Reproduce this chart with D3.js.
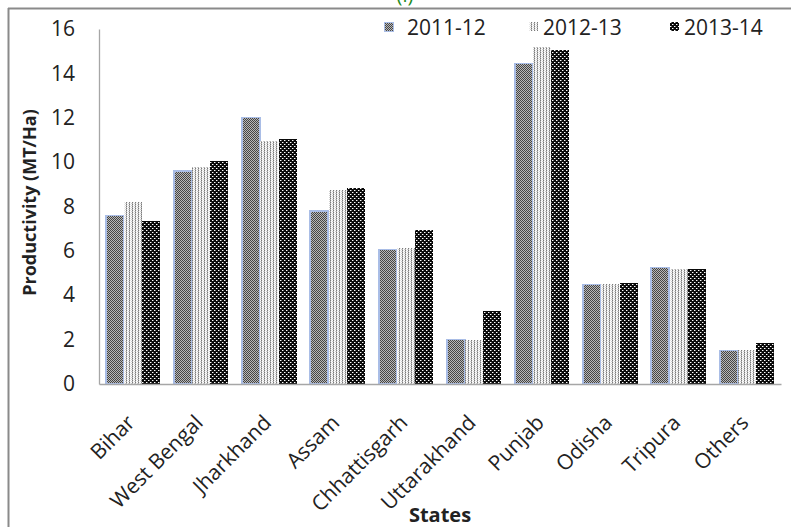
<!DOCTYPE html>
<html><head><meta charset="utf-8">
<script src="https://cdn.jsdelivr.net/npm/d3@7"></script>
<style>html,body{margin:0;padding:0;background:#fff;overflow:hidden}</style>
</head><body>
<svg id="c" width="791" height="527"></svg>
<script>
const categories = ["Bihar","West Bengal","Jharkhand","Assam","Chhattisgarh","Uttarakhand","Punjab","Odisha","Tripura","Others"];
const seriesNames = ["2011-12","2012-13","2013-14"];
const v2011 = [7.6, 9.6, 12.0, 7.8, 6.05, 2.0, 14.45, 4.5, 5.25, 1.5];
const v2012 = [8.2, 9.8, 10.95, 8.75, 6.15, 2.0, 15.2, 4.5, 5.2, 1.55];
const v2013 = [7.35, 10.05, 11.05, 8.85, 6.95, 3.3, 15.05, 4.55, 5.2, 1.85];
const yTicks = [0,2,4,6,8,10,12,14,16];
const seriesValues = [v2011, v2012, v2013];

const FONT = "'Open Sans', Carlito, Lato, sans-serif";
const svg = d3.select("#c");
const L = 99, R = 781, T = 29, B = 384;

// patterns
const defs = svg.append("defs");
function pat(id, w, h, bg, pts) {
  const p = defs.append("pattern").attr("id", id).attr("patternUnits","userSpaceOnUse")
    .attr("width", w).attr("height", h);
  p.append("rect").attr("width", w).attr("height", h).attr("fill", bg);
  pts.forEach(([x,y,c]) => p.append("rect").attr("x",x).attr("y",y).attr("width",1).attr("height",1).attr("fill",c));
}
pat("p0", 2, 2, "#b8b8b8", [[0,0,"#454545"],[1,1,"#454545"]]);
pat("p1", 3, 2, "#ffffff", [[0,0,"#7a7a7a"],[0,1,"#b4b4b4"],[2,1,"#d0d0d0"],[1,0,"#e8e8e8"]]);
pat("p2", 4, 4, "#0a0a0a", [[0,0,"#ffffff"],[2,2,"#ffffff"],[1,0,"#777"],[3,2,"#777"]]);
const fills = ["url(#p0)","url(#p1)","url(#p2)"];
const strokes = ["#a9bde6","none","none"];

// frame
svg.append("line").attr("x1",8).attr("x2",791).attr("y1",8.5).attr("y2",8.5).attr("stroke","#8a8a8a").attr("stroke-width",2);
svg.append("line").attr("x1",8.5).attr("x2",8.5).attr("y1",8).attr("y2",527).attr("stroke","#8a8a8a").attr("stroke-width",2);
svg.append("text").attr("x",405).attr("y",2).attr("text-anchor","middle").attr("fill","#1e8c1e")
  .attr("font-family",FONT).attr("font-size",20).text("(i)");

const x0 = d3.scaleBand().domain(categories).range([L, R]).paddingInner(0.2).paddingOuter(0.1);
const x1 = d3.scaleBand().domain(seriesNames).range([0, x0.bandwidth()]);
const y = d3.scaleLinear().domain([0,16]).range([B, T]);

// bars
const g = svg.append("g").attr("shape-rendering","crispEdges");
seriesNames.forEach((s, si) => {
  g.selectAll(".b"+si).data(categories).enter().append("rect")
    .attr("x", d => Math.round(x0(d) + x1(s)))
    .attr("width", Math.round(x1.bandwidth()))
    .attr("y", (d,i) => y(seriesValues[si][i]))
    .attr("height", (d,i) => B - y(seriesValues[si][i]))
    .attr("fill", fills[si])
    .attr("stroke", strokes[si]).attr("stroke-width", 1.2);
});

// axes
const yAxis = d3.axisLeft(y).tickValues(yTicks).tickSize(0).tickPadding(24);
const ya = svg.append("g").attr("transform",`translate(${L},0)`).call(yAxis);
ya.select(".domain").attr("stroke","#a6a6a6").attr("stroke-width",1.3);
ya.selectAll("text").attr("font-family",FONT).attr("font-size",21).attr("fill","#222");

const xAxis = d3.axisBottom(x0).tickSize(0).tickPadding(0);
const xa = svg.append("g").attr("transform",`translate(0,${B})`).call(xAxis);
xa.select(".domain").attr("stroke","#a6a6a6").attr("stroke-width",1.3);
xa.selectAll(".tick text").attr("font-family",FONT).attr("font-size",21).attr("fill","#222")
  .attr("text-anchor","end").attr("dy",null).attr("y",null)
  .attr("transform","translate(3,40) rotate(-45)");

// axis titles
svg.append("text").attr("x",(L+R)/2).attr("y",522).attr("text-anchor","middle")
  .attr("font-family",FONT).attr("font-size",20).attr("font-weight","bold").attr("fill","#222").text("States");
svg.append("text").attr("transform",`translate(36,${(T+B)/2-4}) rotate(-90)`).attr("text-anchor","middle")
  .attr("font-family",FONT).attr("font-size",18).attr("font-weight","bold").attr("fill","#222").text("Productivity (MT/Ha)");

// legend
const legX = [384, 529, 670];
const legTextX = [407, 543, 684];
const lg = svg.append("g");
seriesNames.forEach((s, i) => {
  lg.append("rect").attr("x", legX[i]).attr("y", 22).attr("width", 9).attr("height", 9)
    .attr("fill", fills[i]).attr("stroke", strokes[i]).attr("shape-rendering","crispEdges");
  lg.append("text").attr("x", legTextX[i]).attr("y", 35).attr("font-family",FONT).attr("font-size",21)
    .attr("fill","#222").text(s);
});
</script>
</body></html>
